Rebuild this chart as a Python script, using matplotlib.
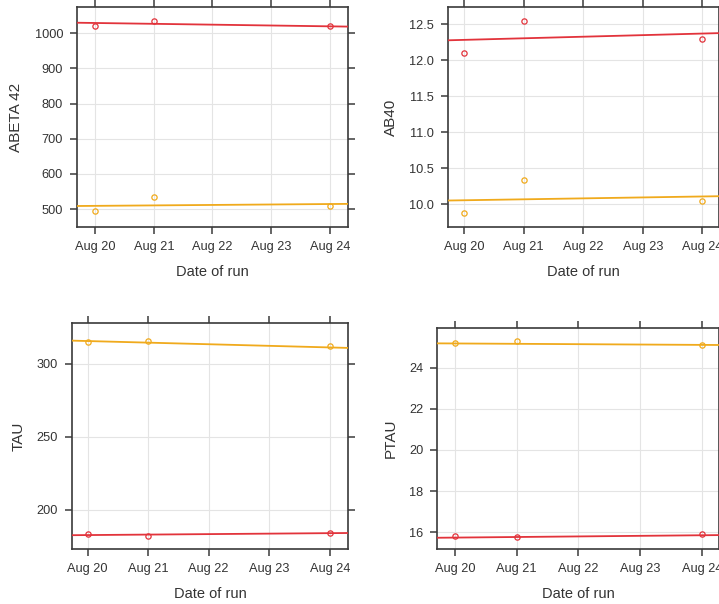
"""Recreation of a lattice-style 2x2 panel of assay values by run date"""
import matplotlib
matplotlib.use("Agg")
import matplotlib.pyplot as plt

plt.rcParams["font.family"] = ["Liberation Sans", "DejaVu Sans"]

# run dates (day of August) and tick labels
run_days = [20, 21, 24]
tick_days = [20, 21, 22, 23, 24]
tick_labels = ["Aug 20", "Aug 21", "Aug 22", "Aug 23", "Aug 24"]

# ABETA 42
abeta42_red = [1022, 1035, 1020]
abeta42_orange = [495, 535, 508]
abeta42_red_fit = [1030, 1019]
abeta42_orange_fit = [509, 515]

# AB40
ab40_red = [12.1, 12.55, 12.3]
ab40_orange = [9.88, 10.33, 10.05]
ab40_red_fit = [12.28, 12.38]
ab40_orange_fit = [10.05, 10.11]

# TAU
tau_red = [183, 182, 184]
tau_orange = [315, 316, 312]
tau_red_fit = [182.5, 184]
tau_orange_fit = [316, 311]

# PTAU
ptau_red = [15.8, 15.75, 15.9]
ptau_orange = [25.2, 25.3, 25.1]
ptau_red_fit = [15.72, 15.85]
ptau_orange_fit = [25.2, 25.12]

RED = "#e2333b"
ORANGE = "#f0aa1c"

panels = [
    # (rect, ylabel, red, orange, red_fit, orange_fit, ylim, yticks, yticklabels, xlim)
    ([0.107, 0.624, 0.377, 0.364], "ABETA 42", abeta42_red, abeta42_orange,
     abeta42_red_fit, abeta42_orange_fit, (449, 1074),
     [500, 600, 700, 800, 900, 1000], None, (19.69, 24.31)),
    ([0.623, 0.624, 0.377, 0.364], "AB40", ab40_red, ab40_orange,
     ab40_red_fit, ab40_orange_fit, (9.68, 12.74),
     [10.0, 10.5, 11.0, 11.5, 12.0, 12.5], ["10.0", "10.5", "11.0", "11.5", "12.0", "12.5"],
     (19.73, 24.28)),
    ([0.100, 0.091, 0.384, 0.374], "TAU", tau_red, tau_orange,
     tau_red_fit, tau_orange_fit, (173, 328),
     [200, 250, 300], None, (19.74, 24.3)),
    ([0.608, 0.091, 0.392, 0.366], "PTAU", ptau_red, ptau_orange,
     ptau_red_fit, ptau_orange_fit, (15.17, 25.95),
     [16, 18, 20, 22, 24], None, (19.71, 24.28)),
]

fig = plt.figure(figsize=(7.19, 6.04), dpi=100)

for rect, ylabel, red, orange, red_fit, orange_fit, ylim, yticks, ylabels, xlim in panels:
    ax = fig.add_axes(rect)
    ax.set_xlim(*xlim)
    ax.set_ylim(*ylim)

    ax.plot(xlim, red_fit, color=RED, lw=1.3, zorder=3)
    ax.plot(xlim, orange_fit, color=ORANGE, lw=1.3, zorder=3)
    ax.plot(run_days, red, linestyle="none", marker="o", ms=3.8,
            mfc="none", mec=RED, mew=0.9, zorder=4)
    ax.plot(run_days, orange, linestyle="none", marker="o", ms=3.8,
            mfc="none", mec=ORANGE, mew=0.9, zorder=4)

    ax.set_xticks(tick_days)
    ax.set_xticklabels(tick_labels)
    ax.set_yticks(yticks)
    if ylabels is not None:
        ax.set_yticklabels(ylabels)

    ax.grid(True, color="#e4e4e4", lw=0.8)
    ax.set_axisbelow(True)
    for side in ax.spines.values():
        side.set_color("#3a3a3a")
        side.set_linewidth(1.2)
    ax.tick_params(direction="out", length=5, width=1.1, color="#3a3a3a",
                   labelsize=9.2, labelcolor="#333333", pad=5,
                   top=True, right=True, labeltop=False, labelright=False)

    ax.set_xlabel("Date of run", fontsize=10.5, color="#333333", labelpad=9)
    ax.set_ylabel(ylabel, fontsize=11, color="#333333", labelpad=8)

fig.savefig("out.png", dpi=100)
